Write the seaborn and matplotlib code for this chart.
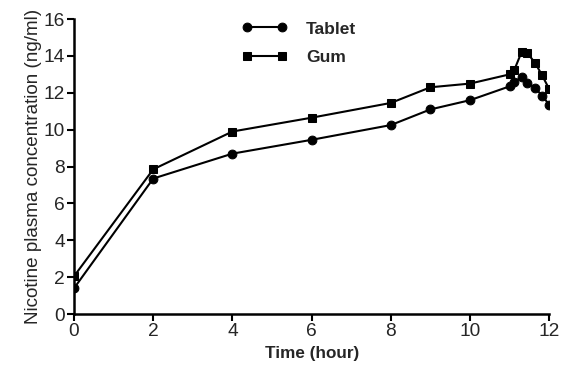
import matplotlib
matplotlib.use("Agg")
import matplotlib.pyplot as plt
import seaborn as sns
import pandas as pd

time_h = [0, 2, 4, 6, 8, 9, 10, 11, 11.12, 11.3, 11.45, 11.65, 11.82, 12]
tablet = [1.4, 7.35, 8.7, 9.45, 10.25, 11.1, 11.6, 12.35, 12.6, 12.85, 12.55, 12.25, 11.85, 11.35]
gum = [2.05, 7.85, 9.9, 10.65, 11.45, 12.3, 12.5, 13.0, 13.25, 14.2, 14.15, 13.6, 12.95, 12.2]
series = ["Tablet", "Gum"]
x_ticks = [0, 2, 4, 6, 8, 10, 12]
y_ticks = [0, 2, 4, 6, 8, 10, 12, 14, 16]

df = pd.DataFrame({
    "Time": time_h * 2,
    "Conc": tablet + gum,
    "Form": [series[0]] * len(time_h) + [series[1]] * len(time_h),
})

sns.set_theme(style="ticks")
plt.rcParams["font.family"] = ["Liberation Sans", "DejaVu Sans"]

fig = plt.figure(figsize=(5.61, 3.71), dpi=100)
ax = fig.add_axes([0.132, 0.1536, 0.847, 0.795])

sns.lineplot(data=df, x="Time", y="Conc", hue="Form", style="Form",
             hue_order=series, style_order=series,
             palette=["black", "black"], markers={"Tablet": "o", "Gum": "s"},
             dashes=False, markersize=6.3, linewidth=1.5, markeredgecolor="black",
             ax=ax)

ax.set_xlim(0, 12)
ax.set_ylim(0, 16)
ax.set_xticks(x_ticks)
ax.set_yticks(y_ticks)
ax.tick_params(axis="both", labelsize=13.8, width=1.5, length=5, direction="out", color="black", pad=1.5)
for s in ["left", "bottom"]:
    ax.spines[s].set_linewidth(1.8)
    ax.spines[s].set_color("black")
sns.despine(ax=ax)
ax.set_xlabel("Time (hour)", fontsize=12.3, fontweight="bold", labelpad=4)
ax.set_ylabel("Nicotine plasma concentration (ng/ml)", fontsize=13.6, labelpad=1)

h, l = ax.get_legend_handles_labels()
ax.legend(h, l, loc="upper left", bbox_to_anchor=(0.32, 1.045), frameon=False,
          numpoints=2, handlelength=2.6, prop={"weight": "bold", "size": 12.5},
          labelspacing=0.78, handletextpad=1.1)

fig.savefig("out.png", dpi=100)
